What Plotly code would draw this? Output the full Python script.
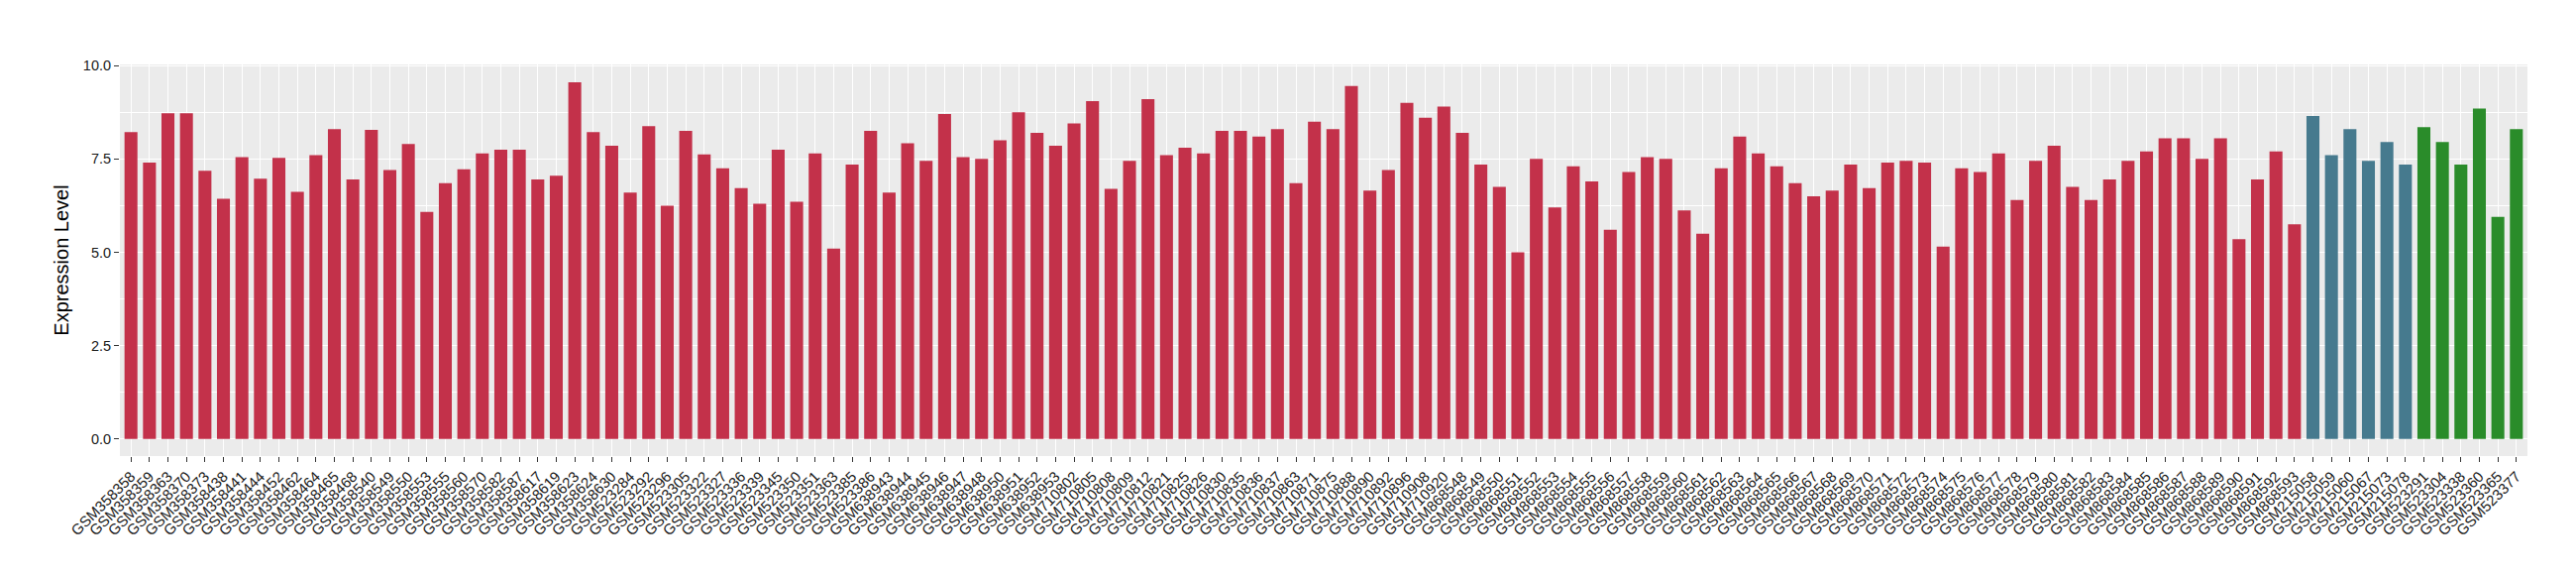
import plotly.graph_objects as go

red_samples = [
    "GSM358358", "GSM358359", "GSM358363", "GSM358370", "GSM358373", "GSM358438", "GSM358441",
    "GSM358444", "GSM358452", "GSM358462", "GSM358464", "GSM358465", "GSM358468", "GSM358540",
    "GSM358549", "GSM358550", "GSM358553", "GSM358555", "GSM358560", "GSM358570", "GSM358582",
    "GSM358587", "GSM358617", "GSM358619", "GSM358623", "GSM358624", "GSM358630",
    "GSM523284", "GSM523292", "GSM523296", "GSM523305", "GSM523322", "GSM523327", "GSM523336",
    "GSM523339", "GSM523345", "GSM523350", "GSM523351", "GSM523363", "GSM523385", "GSM523386",
    "GSM638943", "GSM638944", "GSM638945", "GSM638946", "GSM638947", "GSM638948", "GSM638950",
    "GSM638951", "GSM638952", "GSM638953",
    "GSM710802", "GSM710805", "GSM710808", "GSM710809", "GSM710812", "GSM710821", "GSM710825",
    "GSM710826", "GSM710830", "GSM710835", "GSM710836", "GSM710837", "GSM710863", "GSM710871",
    "GSM710875", "GSM710888", "GSM710890", "GSM710892", "GSM710896", "GSM710908", "GSM710920",
] + ["GSM8685%02d" % n for n in range(48, 94)]

red_values = [
    8.22, 7.40, 8.72, 8.72, 7.18, 6.43, 7.55, 6.97, 7.53, 6.62,
    7.60, 8.30, 6.95, 8.28, 7.20, 7.90, 6.08, 6.85, 7.22, 7.65,
    7.75, 7.75, 6.95, 7.05, 9.55, 8.22, 7.85,
    6.60, 8.38, 6.25, 8.25, 7.62, 7.25, 6.72, 6.30, 7.75, 6.35, 7.65, 5.10, 7.35, 8.25,
    6.60, 7.92, 7.45, 8.70, 7.55, 7.50, 8.00, 8.75, 8.20, 7.85,
    8.45, 9.05, 6.70, 7.45, 9.10, 7.60, 7.80, 7.65, 8.25, 8.25, 8.10, 8.30, 6.85, 8.50,
    8.30, 9.45, 6.65, 7.20, 9.00, 8.60, 8.90,
    8.20, 7.35, 6.75, 5.00, 7.50, 6.20, 7.30, 6.90, 5.60, 7.15,
    7.55, 7.50, 6.12, 5.50, 7.25, 8.10, 7.65, 7.30, 6.85, 6.50,
    6.65, 7.35, 6.72, 7.40, 7.45, 7.40, 5.15, 7.25, 7.15, 7.65,
    6.40, 7.45, 7.85, 6.75, 6.40, 6.95, 7.45, 7.70, 8.05, 8.05,
    7.50, 8.05, 5.35, 6.95, 7.70, 5.75,
]

blue_samples = ["GSM215058", "GSM215059", "GSM215060", "GSM215067", "GSM215073", "GSM215078"]
blue_values = [8.65, 7.60, 8.30, 7.45, 7.95, 7.35]

green_samples = ["GSM523291", "GSM523304", "GSM523338", "GSM523360", "GSM523365", "GSM523377"]
green_values = [8.35, 7.95, 7.35, 8.85, 5.95, 8.30]

all_samples = red_samples + blue_samples + green_samples

fig = go.Figure()
for xs, ys, col in [
    (red_samples, red_values, "#C3314A"),
    (blue_samples, blue_values, "#467A8E"),
    (green_samples, green_values, "#2A8C2A"),
]:
    fig.add_trace(go.Bar(x=xs, y=ys, marker=dict(color=col, line=dict(width=0)),
                         width=0.7, showlegend=False))

fig.update_layout(
    width=2600, height=580,
    barmode="overlay",
    paper_bgcolor="white",
    plot_bgcolor="#EBEBEB",
    margin=dict(l=113, r=57, t=57, b=128, autoexpand=False),
    font=dict(family="Liberation Sans, Arial, sans-serif", color="#1A1A1A"),
)
fig.update_xaxes(
    type="category",
    categoryorder="array", categoryarray=all_samples,
    range=[-0.6, len(all_samples) - 0.4],
    tickangle=-45,
    tickfont=dict(size=15, color="#1A1A1A"),
    showgrid=True, gridcolor="white", gridwidth=1.1,
    ticks="outside", ticklen=5, tickcolor="#333333", tickwidth=1,
    zeroline=False, showline=False, automargin=False,
)
fig.update_yaxes(
    range=[-0.456, 10.03],
    tickvals=[0, 2.5, 5, 7.5, 10],
    ticktext=["0.0", "2.5", "5.0", "7.5", "10.0"],
    tickfont=dict(size=14.5, color="#1A1A1A"),
    showgrid=True, gridcolor="white", gridwidth=1.1,
    minor=dict(tickvals=[1.25, 3.75, 6.25, 8.75], showgrid=True, gridcolor="white", gridwidth=0.5),
    ticks="outside", ticklen=5, tickcolor="#333333", tickwidth=1,
    zeroline=False, showline=False, automargin=False,
    title=dict(text="Expression Level", font=dict(size=20, color="black"), standoff=8),
)

fig.write_html("out.html")
